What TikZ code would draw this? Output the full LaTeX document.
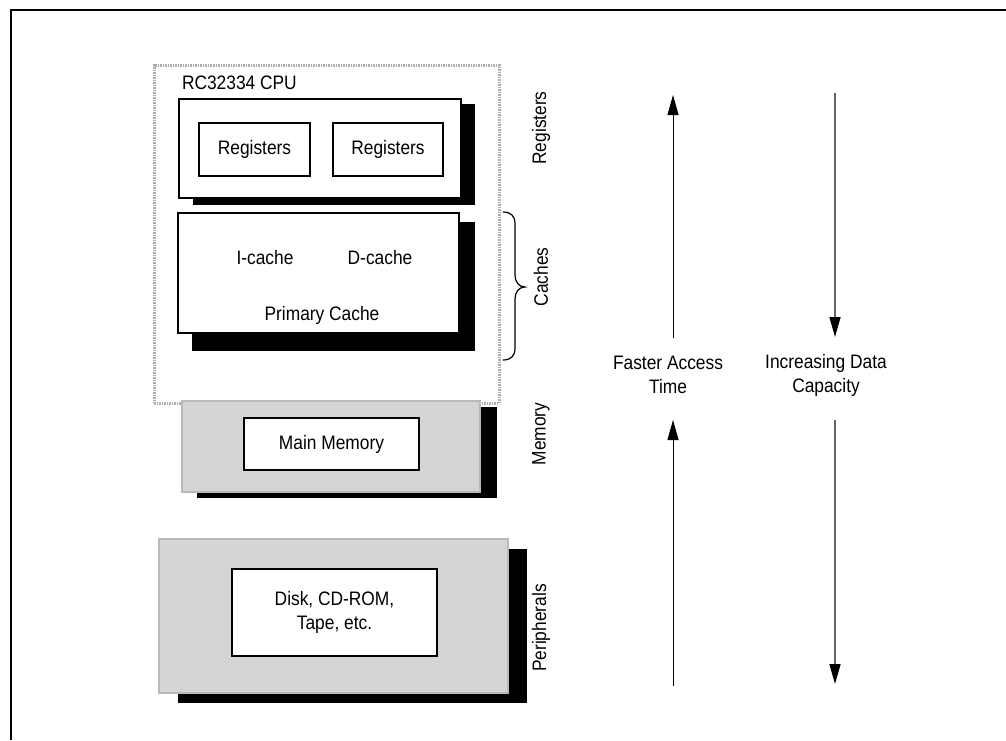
\documentclass[tikz,border=0pt]{standalone}
\usepackage{fontspec}
\setmainfont[FakeStretch=0.89]{Liberation Sans}
\usetikzlibrary{arrows.meta}
\begin{document}
\begin{tikzpicture}[x=1pt,y=-1pt,
  every node/.style={font=\fontsize{19.5}{24}\selectfont, inner sep=0pt, outer sep=0pt},
  box/.style={draw=black, line width=1.5pt, fill=white},
  graybox/.style={draw=gray!55, line width=1.5pt, fill=gray!33},
  shadowbox/.style={fill=black, draw=none},
  cpubox/.style={draw=gray!65, line width=3pt, dash pattern=on 1.5pt off 1pt},
  sidelabel/.style={rotate=90},
  uparrow/.style={draw=black, line width=1pt, -{Triangle[length=20pt,width=11pt]}},
  downarrow/.style={draw=gray!80!black, line width=1.5pt, -{Triangle[length=20pt,width=11pt,fill=black,color=black]}},
  bracepath/.style={draw=black, line width=1.2pt}
]
\useasboundingbox (0,0) rectangle (1006,740);
% outer frame (left and top edges visible)
\draw[line width=2pt] (11,740) -- (11,10) -- (1006,10);

% CPU dotted boundary
\node[cpubox, minimum width=345pt, minimum height=338pt] (cpu) at (326.5,234) {};
\node[anchor=west] (cpulabel) at (182,83) {RC32334 CPU};

% Registers block
\node[shadowbox, minimum width=282pt, minimum height=101pt] (regshadow) at (334,154.5) {};
\node[box, minimum width=282pt, minimum height=99pt] (regouter) at (320,148.5) {};
\node[box, minimum width=111pt, minimum height=53pt] (reg1) at (254.5,149.5) {Registers};
\node[box, minimum width=110pt, minimum height=53pt] (reg2) at (388,149.5) {Registers};

% Cache block
\node[shadowbox, minimum width=283pt, minimum height=129pt] (cacheshadow) at (333.5,286.5) {};
\node[box, minimum width=281pt, minimum height=120pt] (cache) at (318.5,273) {};
\node (icache) at (265,258) {I-cache};
\node (dcache) at (380,258) {D-cache};
\node (primary) at (322,315) {Primary Cache};

% Memory block
\node[shadowbox, minimum width=300pt, minimum height=91pt] (memshadow) at (347,452.5) {};
\node[graybox, minimum width=298pt, minimum height=91pt] (mem) at (331,446.5) {};
\node[box, minimum width=175pt, minimum height=52pt] (mainmem) at (331.5,444) {Main Memory};

% Peripherals block
\node[shadowbox, minimum width=349pt, minimum height=154pt] (perishadow) at (352.5,626) {};
\node[graybox, minimum width=349pt, minimum height=154pt] (peri) at (333.5,616) {};
\node[box, minimum width=205pt, minimum height=87pt, align=center] (disk) at (334.5,612.5) {Disk, CD-ROM,\\Tape, etc.};

% side labels
\node[sidelabel] (lreg) at (541,128) {Registers};
\node[sidelabel] (lcache) at (541,277) {Caches};
\node[sidelabel] (lmem) at (541,434) {Memory};
\node[sidelabel] (lperi) at (541,628) {Peripherals};

% brace for caches
\draw[bracepath] (503,212) .. controls (511,212) and (515,216) .. (515,224) -- (515,275)
  .. controls (515,282) and (519,287) .. (525,287)
  .. controls (519,287) and (515,292) .. (515,299) -- (515,348)
  .. controls (515,356) and (511,360) .. (503,360);

% arrow labels
\node[align=center] (faster) at (668,375) {Faster Access\\Time};
\node[align=center] (capacity) at (826,375) {Increasing Data\\Capacity};

% arrows
\coordinate (u1s) at (673,338); \coordinate (u1e) at (673,95);
\coordinate (d1s) at (835,93);  \coordinate (d1e) at (835,337);
\coordinate (u2s) at (673,686); \coordinate (u2e) at (673,420);
\coordinate (d2s) at (835,420); \coordinate (d2e) at (835,684);
\draw[uparrow] (u1s) -- (u1e);
\draw[downarrow] (d1s) -- (d1e);
\draw[uparrow] (u2s) -- (u2e);
\draw[downarrow] (d2s) -- (d2e);
\end{tikzpicture}
\end{document}
